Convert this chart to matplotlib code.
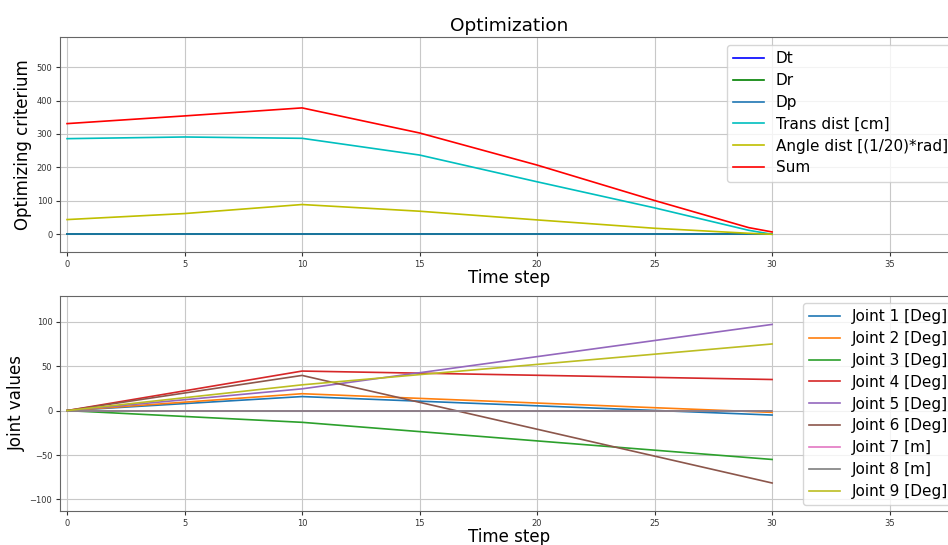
import matplotlib
matplotlib.use("Agg")
import matplotlib.pyplot as plt
import numpy as np

# top panel data
t_opt = [0, 5, 10, 15, 20, 25, 29, 30]
dt = [0, 0, 0, 0, 0, 0, 0, 0]
dr = [0, 0, 0, 0, 0, 0, 0, 0]
dp = [0, 0, 0, 0, 0, 0, 0, 0]
trans_dist = [286, 291, 287, 237, 157, 79, 12, 0]
angle_dist = [44, 62, 89, 69, 43, 18, 3, 0]
sum_crit = [331, 354, 378, 303, 207, 101, 20, 7]

# bottom panel data
t_joint = [0, 10, 30]
joint_labels = ["Joint 1 [Deg]", "Joint 2 [Deg]", "Joint 3 [Deg]", "Joint 4 [Deg]",
                "Joint 5 [Deg]", "Joint 6 [Deg]", "Joint 7 [m]", "Joint 8 [m]",
                "Joint 9 [Deg]"]
joint1 = [0, 15.8, -5]
joint2 = [0, 19, -2]
joint3 = [0, -13.2, -55]
joint4 = [0, 44.5, 35]
joint5 = [0, 24.5, 97]
joint6 = [0, 39.6, -81.5]
joint7 = [0, 0, 0]
joint8 = [0, 0, 0]
joint9 = [0, 29, 75]
joints = [joint1, joint2, joint3, joint4, joint5, joint6, joint7, joint8, joint9]

fig = plt.figure(figsize=(9.48, 5.45), dpi=100)
ax1 = fig.add_axes([0.0633, 0.5376, 0.947, 0.3945])
ax2 = fig.add_axes([0.0633, 0.0624, 0.947, 0.3945])

lw = 1.2
ax1.plot(t_opt, dt, color="b", lw=lw, label="Dt")
ax1.plot(t_opt, dr, color="g", lw=lw, label="Dr")
ax1.plot(t_opt, dp, color="C0", lw=lw, label="Dp")
ax1.plot(t_opt, trans_dist, color="c", lw=lw, label="Trans dist [cm]")
ax1.plot(t_opt, angle_dist, color="y", lw=lw, label="Angle dist [(1/20)*rad]")
ax1.plot(t_opt, sum_crit, color="r", lw=lw, label="Sum")
ax1.set_ylim(-53, 590)
ax1.set_title("Optimization", fontsize=13.3, pad=4)
ax1.set_ylabel("Optimizing criterium", fontsize=12, labelpad=3)
ax1.set_xlabel("Time step", fontsize=12, labelpad=0)

for i, vals in enumerate(joints):
    ax2.plot(t_joint, vals, color="C%d" % i, lw=lw, label=joint_labels[i])
ax2.set_ylim(-113, 129)
ax2.set_ylabel("Joint values", fontsize=12, labelpad=3)
ax2.set_xlabel("Time step", fontsize=12, labelpad=0)

for ax in (ax1, ax2):
    ax.set_xlim(-0.3, 37.9)
    ax.set_xticks([0, 5, 10, 15, 20, 25, 30, 35])
    ax.grid(True, color="#c8c8c8", lw=0.8)
    ax.tick_params(labelsize=6, colors="#333333", length=3, pad=2.5)
    for s in ax.spines.values():
        s.set_color("#666666")

ax1.legend(loc="upper left", bbox_to_anchor=(727 / 948, 1 - 45 / 545),
           bbox_transform=fig.transFigure, fontsize=11, borderaxespad=0,
           labelspacing=0.45)
ax2.legend(loc="upper left", bbox_to_anchor=(803 / 948, 1 - 303 / 545),
           bbox_transform=fig.transFigure, fontsize=11, borderaxespad=0,
           labelspacing=0.45)

fig.savefig("out.png", dpi=100)
